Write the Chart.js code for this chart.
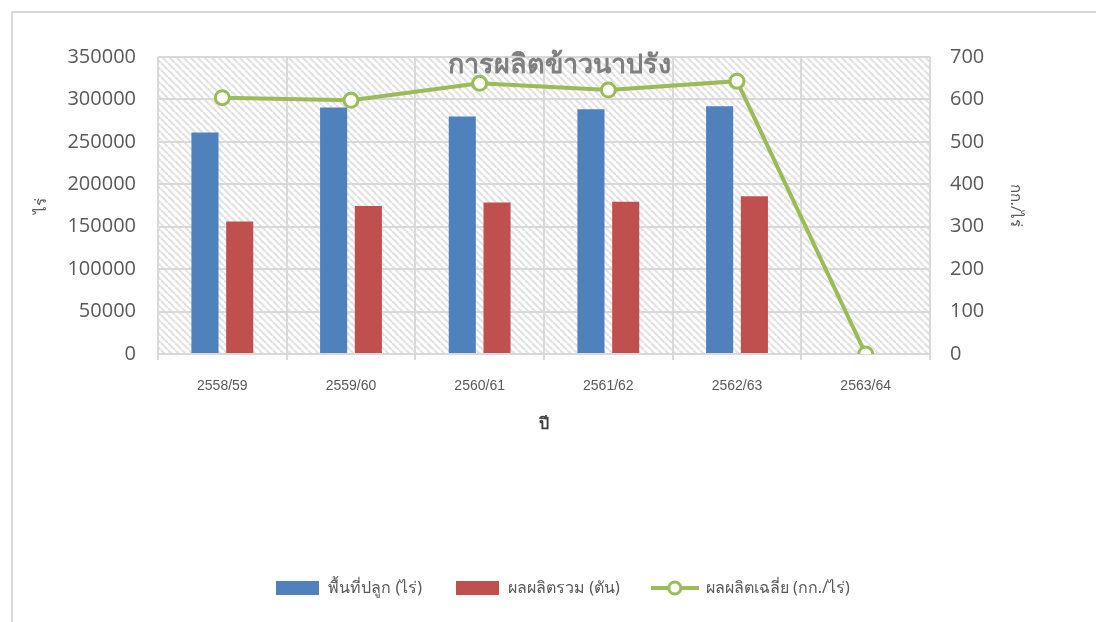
<!DOCTYPE html>
<html>
<head>
<meta charset="utf-8">
<title>การผลิตข้าวนาปรัง</title>
<script src="https://cdn.jsdelivr.net/npm/chart.js@4.4.1/dist/chart.umd.min.js"></script>
<style>
  html, body { margin: 0; padding: 0; background: #fff; }
  #wrap { position: relative; width: 1096px; height: 622px; }
  #frame { position: absolute; left: 11px; top: 11px; right: 0; bottom: 0;
           border-left: 2px solid #d9d9d9; border-top: 2px solid #d9d9d9; pointer-events: none; }
</style>
</head>
<body>
<div id="wrap">
  <canvas id="riceChart" width="1096" height="622"></canvas>
  <div id="frame"></div>
</div>
<script>
// data
const years = ['2558/59', '2559/60', '2560/61', '2561/62', '2562/63', '2563/64'];
const plantedArea = [261000, 290500, 280000, 288500, 292000, 0];   // ไร่
const totalOutput = [156000, 174500, 178500, 179500, 186000, 0];   // ตัน
const avgYield = [604, 598, 638, 622, 643, 0];                    // กก./ไร่

const leftTicks = { min: 0, max: 350000, step: 50000 };
const rightTicks = { min: 0, max: 700, step: 100 };

const BLUE = '#4F81BD';
const RED = '#C0504D';
const GREEN = '#9BBB59';
const GRID = '#d9d9d9';
const TEXT = '#595959';

// diagonal hatch for the plot area
const makeHatch = () => {
    const c = document.createElement('canvas');
    c.width = 7; c.height = 7;
    const g = c.getContext('2d');
    g.fillStyle = '#fff';
    g.fillRect(0, 0, 7, 7);
    g.strokeStyle = '#e2e2e2';
    g.lineWidth = 2.2;
    [-7, 0, 7].forEach(o => {
        g.beginPath();
        g.moveTo(o, 0);
        g.lineTo(o + 7, 7);
        g.stroke();
    });
    return c;
};

// small legend pictures (box for bars, line + marker for the line)
const boxIcon = (color) => {
    const c = document.createElement('canvas');
    c.width = 43; c.height = 14;
    const g = c.getContext('2d');
    g.fillStyle = color;
    g.fillRect(0, 0, 43, 14);
    return c;
};
const lineIcon = () => {
    const c = document.createElement('canvas');
    c.width = 48; c.height = 16;
    const g = c.getContext('2d');
    g.strokeStyle = GREEN;
    g.lineWidth = 4;
    g.beginPath();
    g.moveTo(0, 8); g.lineTo(48, 8);
    g.stroke();
    g.fillStyle = '#fff';
    g.lineWidth = 3;
    g.beginPath();
    g.arc(24, 8, 6, 0, Math.PI * 2);
    g.fill(); g.stroke();
    return c;
};

const hatchPlugin = {
    id: 'hatch',
    beforeDraw(chart) {
        const { ctx, chartArea: a } = chart;
        ctx.save();
        ctx.fillStyle = ctx.createPattern(makeHatch(), 'repeat');
        ctx.fillRect(a.left, a.top, a.right - a.left, a.bottom - a.top);
        ctx.restore();
    }
};

// title sits over the top of the plot area, like the original
const titlePlugin = {
    id: 'overTitle',
    afterDatasetsDraw(chart) {
        const { ctx, chartArea: a } = chart;
        ctx.save();
        ctx.font = 'bold 27px "Noto Sans", sans-serif';
        ctx.fillStyle = '#7f7f7f';
        ctx.textAlign = 'center';
        ctx.textBaseline = 'middle';
        ctx.fillText('การผลิตข้าวนาปรัง', 559, a.top + 8);
        ctx.restore();
    }
};

const icons = [boxIcon(BLUE), boxIcon(RED), lineIcon()];
const plainNumber = (v) => String(v);

new Chart(document.getElementById('riceChart'), {
    data: {
        labels: years,
        datasets: [
            {
                type: 'bar',
                label: 'พื้นที่ปลูก (ไร่)',
                data: plantedArea,
                backgroundColor: BLUE,
                yAxisID: 'y',
                order: 1,
                categoryPercentage: 0.54,
                barPercentage: 0.78
            },
            {
                type: 'bar',
                label: 'ผลผลิตรวม (ตัน)',
                data: totalOutput,
                backgroundColor: RED,
                yAxisID: 'y',
                order: 1,
                categoryPercentage: 0.54,
                barPercentage: 0.78
            },
            {
                type: 'line',
                label: 'ผลผลิตเฉลี่ย (กก./ไร่)',
                data: avgYield,
                borderColor: GREEN,
                borderWidth: 4,
                pointRadius: 7,
                pointBorderWidth: 3,
                pointBackgroundColor: '#fff',
                pointBorderColor: GREEN,
                tension: 0,
                yAxisID: 'y1',
                order: 0
            }
        ]
    },
    options: {
        responsive: false,
        animation: false,
        layout: { padding: { top: 57, left: 28, right: 0, bottom: 16 } },
        plugins: {
            tooltip: { enabled: false },
            legend: {
                position: 'bottom',
                labels: {
                    usePointStyle: true,
                    pointStyleWidth: 46,
                    padding: 32,
                    color: TEXT,
                    font: { size: 16, family: '"Noto Sans", sans-serif' },
                    generateLabels: (chart) => chart.data.datasets.map((ds, i) => ({
                        text: ds.label,
                        pointStyle: icons[i],
                        fontColor: TEXT,
                        lineWidth: 0,
                        datasetIndex: i
                    }))
                }
            }
        },
        scales: {
            x: {
                offset: true,
                grid: { offset: true, color: GRID, lineWidth: 2, tickLength: 6 },
                border: { color: GRID, width: 2 },
                ticks: {
                    color: TEXT,
                    padding: 18,
                    font: { size: 14, family: '"Liberation Sans Narrow", "Liberation Sans", sans-serif' }
                },
                title: {
                    display: true,
                    text: 'ปี',
                    color: '#404040',
                    font: { size: 16, weight: 'bold', family: '"Noto Sans", sans-serif' },
                    padding: { top: 0, bottom: 114 }
                },
                afterFit: (s) => { s.height = 194; }
            },
            y: {
                position: 'left',
                min: leftTicks.min,
                max: leftTicks.max,
                ticks: {
                    stepSize: leftTicks.step,
                    callback: plainNumber,
                    color: TEXT,
                    padding: 22,
                    font: { size: 20, family: '"Open Sans", sans-serif' }
                },
                grid: { color: GRID, lineWidth: 2, drawTicks: false },
                border: { display: false },
                title: {
                    display: true,
                    text: 'ไร่',
                    color: TEXT,
                    font: { size: 15, family: '"Noto Sans", sans-serif' },
                    padding: { top: 5, bottom: 0 }
                },
                afterFit: (s) => { s.width = 130; }
            },
            y1: {
                position: 'right',
                min: rightTicks.min,
                max: rightTicks.max,
                ticks: {
                    stepSize: rightTicks.step,
                    callback: plainNumber,
                    color: TEXT,
                    padding: 20,
                    font: { size: 20, family: '"Open Sans", sans-serif' }
                },
                grid: { display: false, drawTicks: false },
                border: { display: false },
                title: {
                    display: true,
                    text: 'กก./ไร่',
                    color: TEXT,
                    font: { size: 15, family: '"Noto Sans", sans-serif' },
                    padding: { top: 72, bottom: 0 }
                },
                afterFit: (s) => { s.width = 166; }
            }
        }
    },
    plugins: [hatchPlugin, titlePlugin]
});
</script>
</body>
</html>
